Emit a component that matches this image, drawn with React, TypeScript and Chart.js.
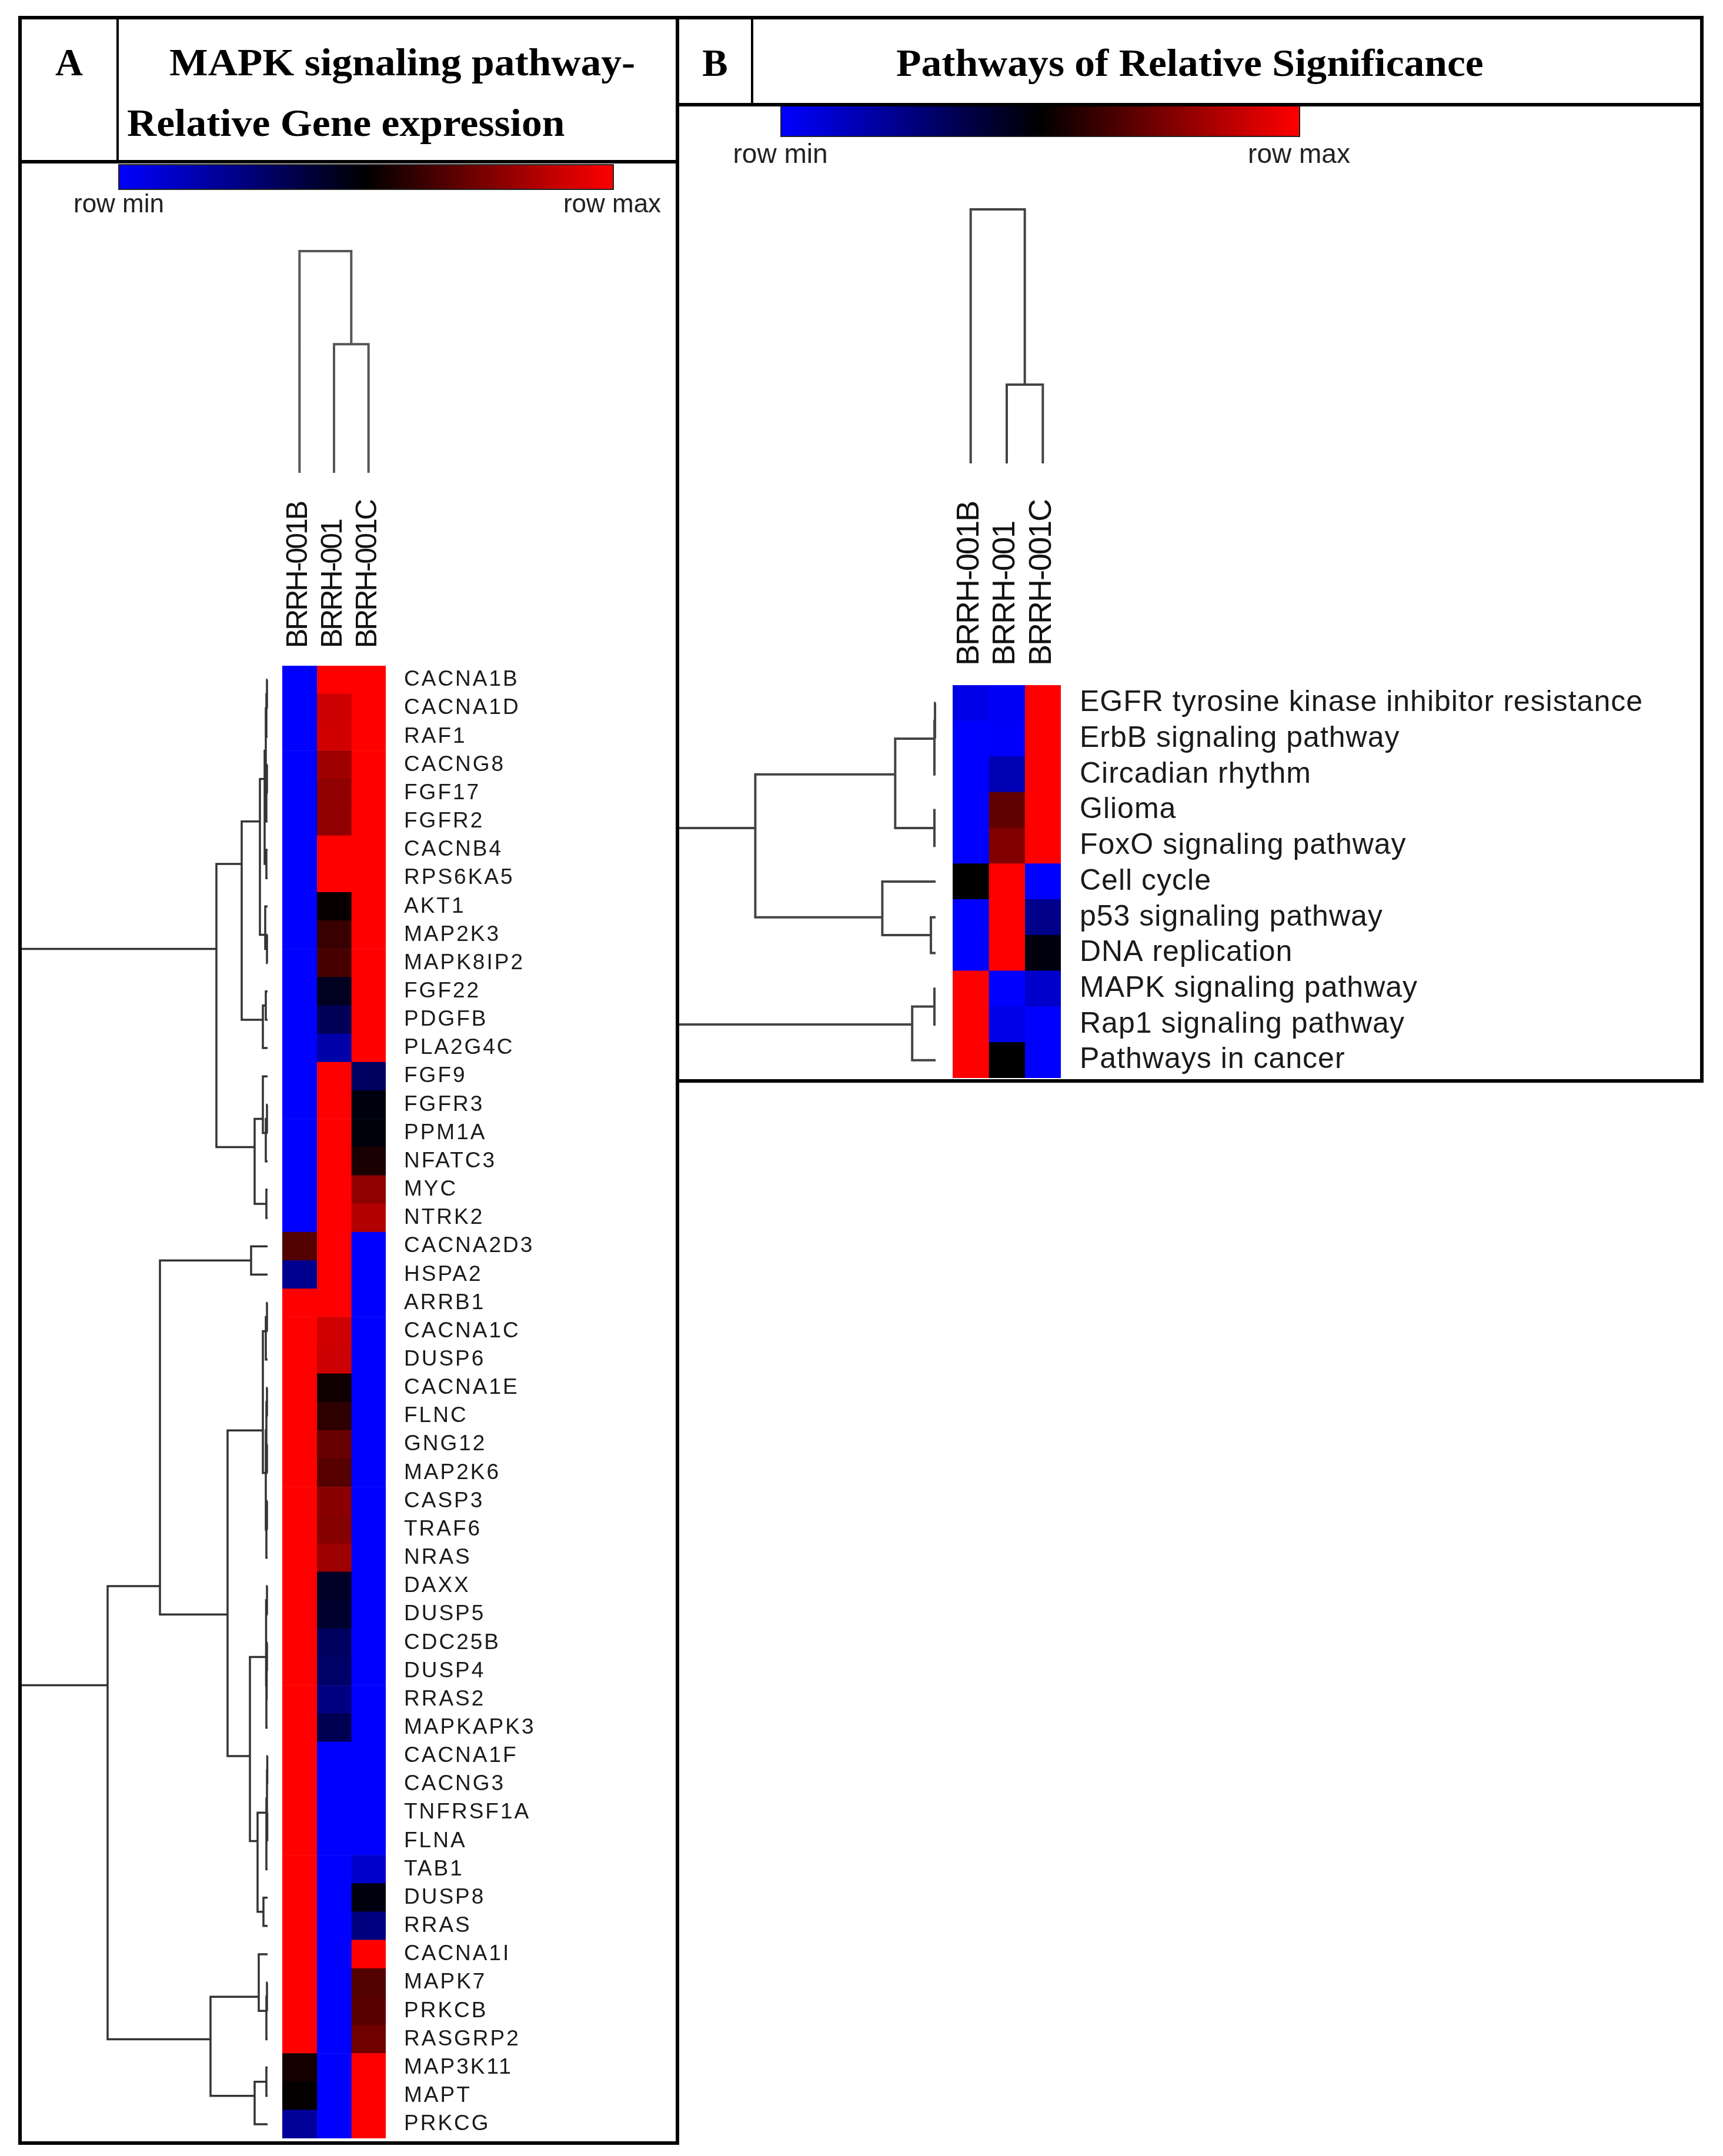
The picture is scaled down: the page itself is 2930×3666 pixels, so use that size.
import React, { useEffect, useRef } from 'react';
import { Chart, registerables } from 'chart.js';

Chart.register(...registerables);

// ---------------- Panel A data ----------------
const samplesA = ['BRRH-001B', 'BRRH-001', 'BRRH-001C'];
const genesA = [
  'CACNA1B', 'CACNA1D', 'RAF1', 'CACNG8', 'FGF17', 'FGFR2', 'CACNB4', 'RPS6KA5', 'AKT1', 'MAP2K3',
  'MAPK8IP2', 'FGF22', 'PDGFB', 'PLA2G4C', 'FGF9', 'FGFR3', 'PPM1A', 'NFATC3', 'MYC', 'NTRK2',
  'CACNA2D3', 'HSPA2', 'ARRB1', 'CACNA1C', 'DUSP6', 'CACNA1E', 'FLNC', 'GNG12', 'MAP2K6', 'CASP3',
  'TRAF6', 'NRAS', 'DAXX', 'DUSP5', 'CDC25B', 'DUSP4', 'RRAS2', 'MAPKAPK3', 'CACNA1F', 'CACNG3',
  'TNFRSF1A', 'FLNA', 'TAB1', 'DUSP8', 'RRAS', 'CACNA1I', 'MAPK7', 'PRKCB', 'RASGRP2', 'MAP3K11',
  'MAPT', 'PRKCG',
];
// relative expression, 0 = row min (blue), 0.5 = black, 1 = row max (red)
const brrh001bA = [
  0, 0, 0, 0, 0, 0, 0, 0, 0, 0,
  0, 0, 0, 0, 0, 0, 0, 0, 0, 0,
  0.66, 0.22, 1, 1, 1, 1, 1, 1, 1, 1,
  1, 1, 1, 1, 1, 1, 1, 1, 1, 1,
  1, 1, 1, 1, 1, 1, 1, 1, 1, 0.54,
  0.51, 0.2,
];
const brrh001A = [
  1, 0.9, 0.91, 0.81, 0.78, 0.78, 1, 1, 0.515, 0.61,
  0.64, 0.44, 0.33, 0.17, 1, 1, 1, 1, 1, 1,
  1, 1, 1, 0.91, 0.9, 0.53, 0.59, 0.7, 0.67, 0.77,
  0.76, 0.81, 0.42, 0.41, 0.31, 0.3, 0.25, 0.34, 0, 0,
  0, 0, 0, 0, 0, 0, 0, 0, 0, 0,
  0, 0,
];
const brrh001cA = [
  1, 1, 1, 1, 1, 1, 1, 1, 1, 1,
  1, 1, 1, 1, 0.31, 0.47, 0.48, 0.55, 0.78, 0.85,
  0, 0, 0, 0, 0, 0, 0, 0, 0, 0,
  0, 0, 0, 0, 0, 0, 0, 0, 0, 0,
  0, 0, 0.1, 0.47, 0.25, 1, 0.66, 0.67, 0.72, 1,
  1, 1,
];
// gene dendrogram merges: [childA, childB, distance]; ids >= 52 refer to earlier merges
const rowMergesA = [
  [0, 1, 1], [52, 2, 2], [3, 4, 1], [54, 5, 2], [53, 55, 3], [6, 7, 2], [56, 57, 5],
  [9, 10, 1], [8, 59, 4], [58, 60, 13],
  [11, 12, 3], [62, 13, 8], [61, 63, 44],
  [15, 16, 1], [65, 17, 3], [14, 66, 8], [18, 19, 2], [67, 68, 22], [64, 69, 87],
  [20, 21, 28],
  [22, 23, 1], [72, 24, 3], [25, 26, 1], [27, 28, 1], [74, 75, 2], [29, 30, 1], [77, 31, 2],
  [76, 78, 3], [73, 79, 8],
  [32, 33, 1], [34, 35, 1], [82, 36, 1.5], [83, 37, 2], [81, 84, 2.5],
  [38, 39, 0.5], [40, 41, 0.5], [86, 87, 1], [88, 42, 2], [43, 44, 7], [89, 90, 17],
  [85, 91, 30], [80, 92, 68], [71, 93, 183],
  [46, 47, 1], [95, 48, 2], [45, 96, 15],
  [49, 50, 2], [98, 51, 22], [97, 99, 97],
  [94, 100, 272], [70, 101, 420],
];
const colMergesA = [[1, 2, 0.58], [0, 3, 1]];

// ---------------- Panel B data ----------------
const samplesB = ['BRRH-001B', 'BRRH-001', 'BRRH-001C'];
const pathwaysB = [
  'EGFR tyrosine kinase inhibitor resistance', 'ErbB signaling pathway', 'Circadian rhythm', 'Glioma',
  'FoxO signaling pathway', 'Cell cycle', 'p53 signaling pathway', 'DNA replication',
  'MAPK signaling pathway', 'Rap1 signaling pathway', 'Pathways in cancer',
];
const brrh001bB = [0.05, 0, 0, 0, 0, 0.5, 0, 0, 1, 1, 1];
const brrh001B = [0.02, 0.01, 0.15, 0.69, 0.75, 1, 1, 1, 0, 0.05, 0.5];
const brrh001cB = [1, 1, 1, 1, 1, 0, 0.23, 0.47, 0.1, 0, 0];
const rowMergesB = [
  [0, 1, 1], [11, 2, 2], [3, 4, 2], [12, 13, 69], [6, 7, 8], [5, 15, 91], [14, 16, 308],
  [8, 9, 2], [18, 10, 40], [17, 19, 440],
];
const colMergesB = [[1, 2, 0.31], [0, 3, 1]];

// ---------------- helpers ----------------
const heatColor = (v: number) =>
  v <= 0.5 ? `rgb(0,0,${Math.round(255 * (1 - 2 * v))})` : `rgb(${Math.round(255 * (2 * v - 1))},0,0)`;

function treeNodes(n: number, merges: number[][]) {
  const pos: number[] = [];
  const cnt: number[] = [];
  const hgt: number[] = [];
  for (let i = 0; i < n; i++) { pos.push(i); cnt.push(1); hgt.push(0); }
  merges.forEach(([a, b, h]) => {
    const c = cnt[a] + cnt[b];
    pos.push((pos[a] * cnt[a] + pos[b] * cnt[b]) / c);
    cnt.push(c);
    hgt.push(h);
  });
  return { pos, hgt, maxH: Math.max(...hgt) };
}

const SANS = '"Liberation Sans", Arial, sans-serif';

function makeDecor(p: any) {
  return {
    id: 'heatmapDecor',
    beforeDraw(chart: any) {
      chart.ctx.letterSpacing = p.tickSpacing;
    },
    afterDraw(chart: any) {
      const ctx = chart.ctx;
      const area = chart.chartArea;
      const xS = chart.scales.x;
      const yS = chart.scales.y;
      ctx.save();
      ctx.lineJoin = 'miter';
      ctx.lineCap = 'butt';

      // row dendrogram
      const rt = treeNodes(p.labels.length, p.rowMerges);
      const leafX = area.left - p.rowLeafGap;
      const rx = (h: number) => leafX - (h / rt.maxH) * (leafX - p.rowRootX);
      const ry = (q: number) => yS.getPixelForValue(q);
      ctx.strokeStyle = p.rowLine[0];
      ctx.lineWidth = p.rowLine[1];
      ctx.beginPath();
      p.rowMerges.forEach(([a, b, h]: number[]) => {
        const xp = rx(h);
        ctx.moveTo(rx(rt.hgt[a]), ry(rt.pos[a]));
        ctx.lineTo(xp, ry(rt.pos[a]));
        ctx.lineTo(xp, ry(rt.pos[b]));
        ctx.lineTo(rx(rt.hgt[b]), ry(rt.pos[b]));
      });
      ctx.stroke();

      // column dendrogram
      const ct = treeNodes(p.samples.length, p.colMerges);
      const cx = (q: number) => xS.getPixelForValue(q + 0.5);
      const cy = (h: number) => p.colLeafY - (h / ct.maxH) * (p.colLeafY - p.colRootY);
      ctx.strokeStyle = p.colLine[0];
      ctx.lineWidth = p.colLine[1];
      ctx.beginPath();
      p.colMerges.forEach(([a, b, h]: number[]) => {
        const yp = cy(h);
        ctx.moveTo(cx(ct.pos[a]), cy(ct.hgt[a]));
        ctx.lineTo(cx(ct.pos[a]), yp);
        ctx.lineTo(cx(ct.pos[b]), yp);
        ctx.lineTo(cx(ct.pos[b]), cy(ct.hgt[b]));
      });
      ctx.stroke();

      // sample labels (rotated, reading upward)
      ctx.fillStyle = '#111';
      ctx.font = `${p.sampleFont}px ${SANS}`;
      ctx.letterSpacing = p.sampleSpacing;
      ctx.textAlign = 'left';
      ctx.textBaseline = 'alphabetic';
      const capH = p.sampleFont * 0.716;
      p.samples.forEach((s: string, j: number) => {
        ctx.save();
        ctx.translate(xS.getPixelForValue(j + 0.5) + p.sampleShift, p.sampleBottom);
        ctx.rotate(-Math.PI / 2);
        ctx.fillText(s, 0, capH / 2);
        ctx.restore();
      });

      // colour key
      const [bx0, by0, bx1, by1] = p.bar;
      const g = ctx.createLinearGradient(bx0, 0, bx1, 0);
      [0, 0.25, 0.5, 0.75, 1].forEach((t) => g.addColorStop(t, heatColor(t)));
      ctx.fillStyle = g;
      ctx.fillRect(bx0, by0, bx1 - bx0, by1 - by0);
      ctx.strokeStyle = '#222';
      ctx.lineWidth = 2;
      ctx.strokeRect(bx0, by0, bx1 - bx0, by1 - by0);
      ctx.fillStyle = '#222';
      ctx.font = `${p.legendFont}px ${SANS}`;
      ctx.letterSpacing = '0px';
      ctx.textAlign = 'center';
      ctx.textBaseline = 'alphabetic';
      ctx.fillText('row min', p.legendMinX, p.legendBaseline);
      ctx.fillText('row max', p.legendMaxX, p.legendBaseline);

      ctx.restore();
      ctx.letterSpacing = '0px';
    },
  };
}

function HeatPanel({ p }: { p: any }) {
  const ref = useRef<HTMLCanvasElement | null>(null);
  useEffect(() => {
    if (!ref.current) return;
    const datasets = p.columns.map((vals: number[], j: number) => ({
      label: p.samples[j],
      data: vals.map(() => [j, j + 1]),
      backgroundColor: vals.map(heatColor),
      borderWidth: 0,
      grouped: false,
      categoryPercentage: 1,
      barPercentage: 1,
    }));
    const chart = new Chart(ref.current, {
      type: 'bar',
      data: { labels: p.labels, datasets },
      options: {
        indexAxis: 'y',
        animation: false,
        responsive: false,
        maintainAspectRatio: false,
        events: [],
        layout: { padding: p.padding },
        plugins: { legend: { display: false }, tooltip: { enabled: false }, title: { display: false } },
        scales: {
          x: { type: 'linear', min: 0, max: p.samples.length, display: false },
          y: {
            type: 'category',
            position: 'right',
            grid: { display: false, drawTicks: false },
            border: { display: false },
            ticks: {
              autoSkip: false,
              padding: p.tickPadding,
              color: '#1a1a1a',
              font: { family: SANS, size: p.tickFont },
            },
            afterFit: (s: any) => {
              s.width = p.axisWidth;
              s.paddingTop = 0;
              s.paddingBottom = 0;
            },
          },
        },
      },
      plugins: [makeDecor(p)],
    } as any);
    return () => chart.destroy();
  }, []);
  return (
    <canvas
      ref={ref}
      width={p.width}
      height={p.height}
      style={{ position: 'absolute', left: p.left, top: p.top, width: p.width, height: p.height }}
    />
  );
}

const panelA = {
  left: 0, top: 0, width: 1160, height: 3666,
  labels: genesA, samples: samplesA, columns: [brrh001bA, brrh001A, brrh001cA],
  padding: { left: 480, top: 1132, right: 24, bottom: 30 }, axisWidth: 480,
  tickPadding: 31, tickFont: 37, tickSpacing: '3px',
  rowMerges: rowMergesA, colMerges: colMergesA,
  rowLeafGap: 25, rowRootX: 35, colLeafY: 804, colRootY: 427,
  rowLine: ['#333', 3.5], colLine: ['#555', 4],
  bar: [202, 280, 1043, 322], legendBaseline: 361, legendMinX: 202, legendMaxX: 1041, legendFont: 44,
  sampleFont: 50, sampleSpacing: '-3px', sampleBottom: 1102, sampleShift: -5,
};

const panelB = {
  left: 1150, top: 0, width: 1780, height: 1900,
  labels: pathwaysB, samples: samplesB, columns: [brrh001bB, brrh001B, brrh001cB],
  padding: { left: 470, top: 1165, right: 40, bottom: 67 }, axisWidth: 1086,
  tickPadding: 32, tickFont: 50, tickSpacing: '1px',
  rowMerges: rowMergesB, colMerges: colMergesB,
  rowLeafGap: 29, rowRootX: 3, colLeafY: 788, colRootY: 356,
  rowLine: ['#444', 4], colLine: ['#444', 4],
  bar: [178, 180, 1060, 232], legendBaseline: 277, legendMinX: 177, legendMaxX: 1059, legendFont: 46,
  sampleFont: 54, sampleSpacing: '-2px', sampleBottom: 1132, sampleShift: -6,
};

// frame lines [x, y, w, h]
const frameLines = [
  [31, 27, 2866, 6],
  [31, 27, 6, 3620],
  [31, 3641, 1124, 6],
  [1149, 27, 6, 3620],
  [31, 272, 1124, 6],
  [198, 27, 4, 251],
  [1149, 175, 1748, 6],
  [1277, 27, 4, 154],
  [2891, 27, 6, 1814],
  [1149, 1835, 1748, 6],
];

const serif: React.CSSProperties = {
  position: 'absolute',
  fontFamily: '"Liberation Serif", "Times New Roman", serif',
  fontWeight: 'bold',
  fontSize: 65,
  lineHeight: '65px',
  whiteSpace: 'nowrap',
  color: '#000',
};

export default function App() {
  return (
    <div style={{ position: 'absolute', left: 0, top: 0, width: 2930, height: 3666, background: '#fff', overflow: 'hidden' }}>
      <HeatPanel p={panelA} />
      <HeatPanel p={panelB} />
      {frameLines.map(([x, y, w, h], i) => (
        <div key={i} style={{ position: 'absolute', left: x, top: y, width: w, height: h, background: '#000' }} />
      ))}
      <div style={{ ...serif, left: 35, top: 74, width: 165, textAlign: 'center' }}>A</div>
      <div style={{ ...serif, left: 288, top: 74, transform: 'scaleX(1.07)', transformOrigin: 'left top' }}>MAPK signaling pathway-</div>
      <div style={{ ...serif, left: 216, top: 177, transform: 'scaleX(1.07)', transformOrigin: 'left top' }}>Relative Gene expression</div>
      <div style={{ ...serif, left: 1153, top: 75, width: 126, textAlign: 'center' }}>B</div>
      <div style={{ ...serif, left: 1524, top: 75, transform: 'scaleX(1.07)', transformOrigin: 'left top' }}>Pathways of Relative Significance</div>
    </div>
  );
}
